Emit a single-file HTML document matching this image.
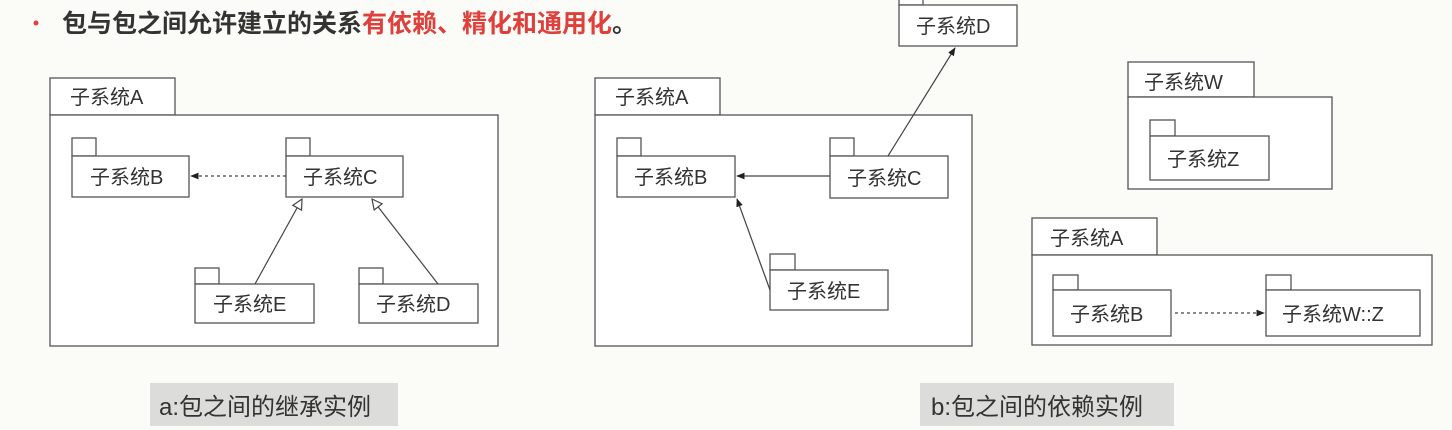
<!DOCTYPE html>
<html><head><meta charset="utf-8"><style>
html,body{margin:0;padding:0;background:#fbfbf8;}
svg{display:block}
text{font-family:"Liberation Sans","Noto Sans CJK SC",sans-serif;fill:#333;}
</style></head><body>
<svg width="1452" height="430" viewBox="0 0 1452 430" xmlns="http://www.w3.org/2000/svg">
<defs>
<marker id="fa" viewBox="0 0 10 10" refX="9" refY="5" markerWidth="7" markerHeight="7" orient="auto"><path d="M0,1 L10,5 L0,9 z" fill="#222"/></marker>
<marker id="ht" viewBox="0 0 12 12" refX="11" refY="6" markerWidth="10" markerHeight="10" orient="auto"><path d="M1,1 L11,6 L1,11 z" fill="#fff" stroke="#444" stroke-width="1.2"/></marker>
</defs>
<rect width="1452" height="430" fill="#fbfbf8"/>
<circle cx="36" cy="23" r="2.5" fill="#e04040"/>
<text x="62" y="32" font-size="25" font-weight="bold" style="fill:#333">包与包之间允许建立的关系<tspan style="fill:#e0403c">有依赖、精化和通用化</tspan>。</text>

<g fill="#fff" stroke="#555" stroke-width="1.3">
<rect x="50" y="78" width="125" height="37"/><rect x="50" y="115" width="448" height="231"/>
<rect x="72" y="138" width="24" height="18"/><rect x="72" y="156" width="117" height="41"/>
<rect x="286" y="138" width="24" height="18"/><rect x="286" y="156" width="117" height="41"/>
<rect x="195" y="268" width="24" height="16"/><rect x="195" y="284" width="119" height="39"/>
<rect x="359" y="268" width="24" height="16"/><rect x="359" y="284" width="119" height="39"/>
<rect x="595" y="78" width="125" height="37"/><rect x="595" y="115" width="377" height="231"/>
<rect x="617" y="138" width="24" height="18"/><rect x="617" y="156" width="118" height="41"/>
<rect x="830" y="138" width="24" height="18"/><rect x="830" y="156" width="118" height="42"/>
<rect x="770" y="254" width="25" height="16"/><rect x="770" y="270" width="118" height="40"/>
<rect x="899" y="-10" width="24" height="15"/><rect x="899" y="5" width="118" height="41"/>
<rect x="1128" y="62" width="126" height="35"/><rect x="1128" y="97" width="204" height="92"/>
<rect x="1150" y="120" width="25" height="16"/><rect x="1150" y="136" width="119" height="44"/>
<rect x="1032" y="218" width="125" height="37"/><rect x="1032" y="255" width="400" height="90"/>
<rect x="1053" y="275" width="25" height="15"/><rect x="1053" y="290" width="118" height="46"/>
<rect x="1266" y="275" width="25" height="15"/><rect x="1266" y="290" width="154" height="46"/>
</g>

<g stroke="#444" stroke-width="1.2" fill="none">
<line x1="286" y1="176" x2="191" y2="176" stroke-dasharray="3,3" marker-end="url(#fa)"/>
<line x1="255" y1="284" x2="302" y2="199" marker-end="url(#ht)"/>
<line x1="438" y1="284" x2="372" y2="199" marker-end="url(#ht)"/>
<line x1="830" y1="176" x2="737" y2="176" marker-end="url(#fa)"/>
<line x1="888" y1="156" x2="955" y2="48" marker-end="url(#fa)"/>
<line x1="770" y1="290" x2="737" y2="199" marker-end="url(#fa)"/>
<line x1="1175" y1="313" x2="1264" y2="313" stroke-dasharray="3,3" marker-end="url(#fa)"/>
</g>

<g font-size="20">
<text x="70" y="104">子系统A</text>
<text x="90" y="184">子系统B</text>
<text x="303" y="184">子系统C</text>
<text x="213" y="311">子系统E</text>
<text x="376" y="311">子系统D</text>
<text x="615" y="104">子系统A</text>
<text x="634" y="184">子系统B</text>
<text x="847" y="185">子系统C</text>
<text x="787" y="298">子系统E</text>
<text x="916" y="33">子系统D</text>
<text x="1144" y="89">子系统W</text>
<text x="1167" y="166">子系统Z</text>
<text x="1050" y="245">子系统A</text>
<text x="1070" y="321">子系统B</text>
<text x="1282" y="321">子系统W::Z</text>
</g>

<rect x="150" y="383" width="248" height="43" fill="#dcdcda"/>
<text x="159" y="415" font-size="24">a:包之间的继承实例</text>
<rect x="920" y="383" width="254" height="43" fill="#dcdcda"/>
<text x="931" y="415" font-size="24">b:包之间的依赖实例</text>
</svg>
</body></html>
